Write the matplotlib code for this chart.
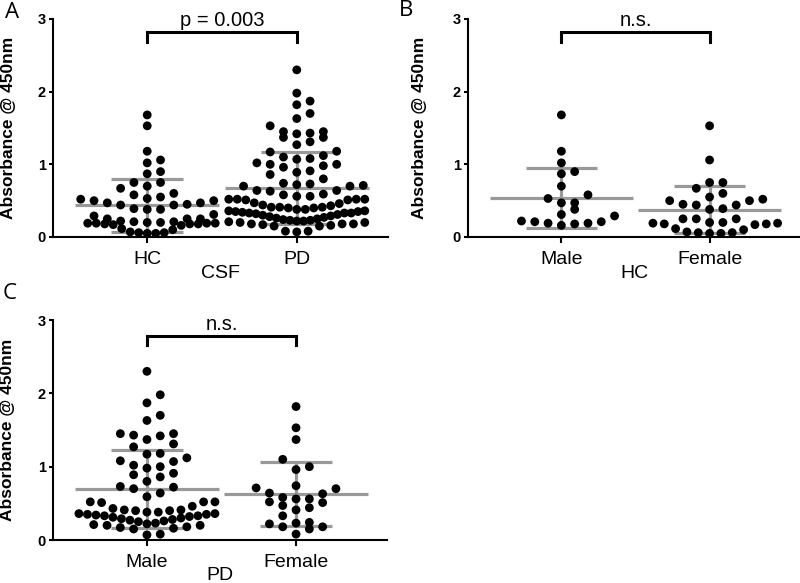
import numpy as np
import matplotlib
matplotlib.use("Agg")
import matplotlib.pyplot as plt

# ---------------- data (absorbance @ 450 nm) ----------------
hc_male = [1.68, 1.18, 1.02, 0.90, 0.87, 0.70, 0.58, 0.53, 0.47, 0.47,
           0.38, 0.31, 0.22, 0.21, 0.19, 0.16, 0.18, 0.19, 0.21, 0.29]
hc_female = [1.53, 1.06, 0.75, 0.75, 0.67, 0.60, 0.55, 0.50, 0.52, 0.50,
             0.45, 0.44, 0.44, 0.38, 0.39, 0.25, 0.25, 0.25, 0.20, 0.19,
             0.18, 0.17, 0.18, 0.19, 0.20, 0.115, 0.10, 0.07, 0.06, 0.05,
             0.05, 0.06]
pd_male = [2.30, 1.98, 1.87, 1.70, 1.63, 1.45, 1.43, 1.37, 1.42, 1.45,
           1.27, 1.31, 1.17, 1.18, 1.08, 1.07, 1.12, 1.00, 1.02, 0.91,
           0.86, 0.89, 0.98, 0.80, 0.73, 0.70, 0.64, 0.72, 0.52, 0.52,
           0.46, 0.51, 0.52, 0.59,
           0.41, 0.40, 0.38, 0.36, 0.35, 0.33, 0.32, 0.30, 0.28, 0.26,
           0.25, 0.27, 0.29, 0.31, 0.33, 0.34, 0.35, 0.36, 0.38, 0.40,
           0.41, 0.43,
           0.23, 0.21, 0.20, 0.18, 0.16, 0.15, 0.17, 0.20, 0.22, 0.07, 0.08]
pd_female = [1.82, 1.53, 1.37, 1.10, 0.96, 1.00, 0.74, 0.71, 0.64, 0.70,
             0.63, 0.58, 0.56, 0.51, 0.47, 0.52, 0.56, 0.41, 0.44, 0.33,
             0.24, 0.22, 0.18, 0.15, 0.18, 0.23, 0.08]

panels = [
    dict(letter="A", groups=[hc_male + hc_female, pd_male + pd_female],
         ticklabels=["HC", "PD"], xlabel="CSF", sig="p = 0.003"),
    dict(letter="B", groups=[hc_male, hc_female],
         ticklabels=["Male", "Female"], xlabel="HC", sig="n.s."),
    dict(letter="C", groups=[pd_male, pd_female],
         ticklabels=["Male", "Female"], xlabel="PD", sig="n.s."),
]

# ---------------- figure / layout ----------------
W, H = 800, 583
fig = plt.figure(figsize=(W / 100, H / 100), dpi=100)
FONT = ["Liberation Sans", "DejaVu Sans"]
GRAY = "#999999"

# pixel layout: (left, right, y_of_0, y_of_3)
boxes = [(53, 388, 237, 19), (468, 800, 237, 19), (53, 387, 540, 320)]
letter_pos = [(5, 2), (399, 0), (3, 283)]
ylabel_x = [15.6, 427, 15.5]
xlabel_off = [28.0, 28.0, 27.0]
bracket = [(2.68, 2.82, 2.91), (2.68, 2.82, 2.91), (2.66, 2.78, 2.86)]
XLIM = (-0.63, 1.61)
DOT_PX = 8.8       # marker diameter in pixels
SLOT_PX = 13.3     # preferred horizontal spacing
ROW_H = 0.15       # value range grouped into one row
MAX_HALF_PX = 68.0  # max horizontal spread from the column centre


def row_offsets(values, xppu):
    """Prism-like scatter: group close values in rows, spread them sideways."""
    vals = np.asarray(values, dtype=float)
    order = np.argsort(vals, kind="stable")
    offs = np.zeros(len(vals))
    i = 0
    while i < len(order):
        start = vals[order[i]]
        j = i
        while j < len(order) and vals[order[j]] < start + ROW_H:
            j += 1
        row = order[i:j]
        n = len(row)
        right = n // 2
        spacing = SLOT_PX if right == 0 else min(SLOT_PX, MAX_HALF_PX / right)
        for k, idx in enumerate(row):
            slot = (k + 1) // 2 * (1 if k % 2 == 1 else -1)
            offs[idx] = slot * spacing / xppu
        i = j
    return offs


for i, p in enumerate(panels):
    l, r, y0, y3 = boxes[i]
    ax = fig.add_axes([l / W, (H - y0) / H, (r - l) / W, (y0 - y3) / H])
    ax.set_xlim(*XLIM)
    ax.set_ylim(0, 3)
    xppu = (r - l) / (XLIM[1] - XLIM[0])

    for k, g in enumerate(p["groups"]):
        g = np.asarray(g)
        m = g.mean()
        sd = g.std(ddof=1)
        ax.plot([k - 0.48, k + 0.48], [m, m], color=GRAY, lw=2.3,
                solid_capstyle="butt", zorder=2)
        ax.plot([k, k], [m - sd, m + sd], color=GRAY, lw=2.3, zorder=2,
                solid_capstyle="butt")
        for yy in (m - sd, m + sd):
            ax.plot([k - 0.24, k + 0.24], [yy, yy], color=GRAY, lw=2.3,
                    solid_capstyle="butt", zorder=2)
        offs = row_offsets(g, xppu)
        ax.scatter(k + offs, g, s=(DOT_PX * 0.72) ** 2, color="black",
                   edgecolors="none", zorder=3, clip_on=False)

    # significance bracket
    lo, hi, ty = bracket[i]
    ax.plot([0, 0, 1, 1], [lo, hi, hi, lo], color="black", lw=2.2,
            clip_on=False, solid_joinstyle="miter")
    ax.text(0.5, ty, p["sig"], ha="center", va="baseline", fontsize=14.5,
            family=FONT)

    # axes styling
    for s in ("top", "right"):
        ax.spines[s].set_visible(False)
    ax.spines["left"].set_linewidth(1.5)
    ax.spines["bottom"].set_linewidth(1.5)
    ax.set_yticks([0, 1, 2, 3])
    ax.set_yticklabels(["0", "1", "2", "3"], fontsize=10.5, fontweight="bold",
                       family=FONT)
    ax.tick_params(axis="y", length=3, width=1.5, pad=2)
    ax.set_xticks([0, 1])
    ax.set_xticklabels(p["ticklabels"], fontsize=14, family=FONT)
    ax.tick_params(axis="x", length=4, width=1.5, pad=6)

    ax.set_ylabel("Absorbance @ 450nm", fontsize=12.5, fontweight="bold",
                  family=FONT)
    ax.yaxis.set_label_coords((ylabel_x[i] - l) / (r - l), 0.5)
    ax.set_xlabel(p["xlabel"], fontsize=14, family=FONT)
    ax.xaxis.set_label_coords(0.5, -(xlabel_off[i] / (y0 - y3)))

    fx, fy = letter_pos[i]
    fig.text(fx / W, 1 - fy / H, p["letter"], ha="left", va="top",
             fontsize=16, family=["Open Sans", "DejaVu Sans"])

fig.savefig("out.png", dpi=100)
